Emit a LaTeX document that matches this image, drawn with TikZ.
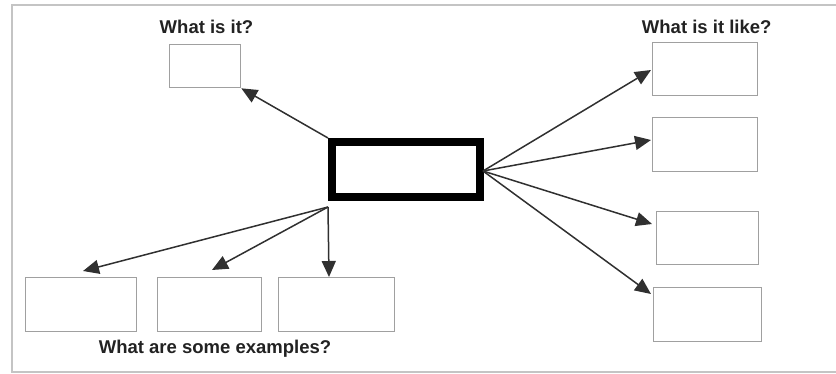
\documentclass[tikz,border=0pt]{standalone}
\usepackage{fontspec}
\setmainfont{Liberation Sans}
\usetikzlibrary{arrows.meta}
\definecolor{framegray}{HTML}{C4C4C4}
\definecolor{boxgray}{HTML}{A0A0A0}
\definecolor{linegray}{HTML}{303030}
\definecolor{txtgray}{HTML}{222222}
\tikzset{
  box/.style={draw=boxgray, line width=1.3pt, minimum width=#1, anchor=north west, inner sep=0pt},
  mainbox/.style={draw=black, line width=8pt, minimum width=147.5pt, minimum height=55pt, inner sep=0pt},
  conn/.style={draw=linegray, line width=1.5pt, -{Triangle[length=16pt,width=14pt]}},
  lbl/.style={font=\bfseries\fontsize{18.5}{20}\selectfont, text=txtgray, anchor=base, inner sep=0pt},
}
\begin{document}
\begin{tikzpicture}[x=1pt,y=-1pt]
\useasboundingbox (0,0) rectangle (836,373);
% frame (open on the right)
\draw[framegray, line width=2pt] (836,5) -- (12,5) -- (12,372) -- (836,372);
% central box
\node[mainbox] (c) at (405.75,169.5) {};
% top-left
\node[box=71pt, minimum height=43pt] (q) at (169,44) {};
\node[lbl] (tq) at (206.5,33.5) {What is it?};
% right boxes
\node[box=105pt, minimum height=53pt] (r1) at (652,42) {};
\node[box=105pt, minimum height=54pt] (r2) at (652,117) {};
\node[box=102pt, minimum height=53pt] (r3) at (656,211) {};
\node[box=108pt, minimum height=54pt] (r4) at (653,287) {};
\node[lbl] (tr) at (706.7,33) {What is it like?};
% bottom boxes
\node[box=111pt, minimum height=54pt] (b1) at (25,277) {};
\node[box=104pt, minimum height=54pt] (b2) at (157,277) {};
\node[box=116pt, minimum height=54pt] (b3) at (278,277) {};
\node[lbl] (tb) at (215,353) {What are some examples?};
% connector end points
\coordinate (cr) at (483,171);
\coordinate (cb) at (328,207);
\coordinate (t1) at (651,70);
\coordinate (t2) at (651,140);
\coordinate (t3) at (652,224);
\coordinate (t4) at (651,294);
\coordinate (ta) at (83,271);
\coordinate (tb2) at (212,270);
\coordinate (tc) at (329,277);
% connectors
\draw[conn] (c.north west) -- (q.south east);
\draw[conn] (cr) -- (t1);
\draw[conn] (cr) -- (t2);
\draw[conn] (cr) -- (t3);
\draw[conn] (cr) -- (t4);
\draw[conn] (cb) -- (ta);
\draw[conn] (cb) -- (tb2);
\draw[conn] (cb) -- (tc);
\end{tikzpicture}
\end{document}
